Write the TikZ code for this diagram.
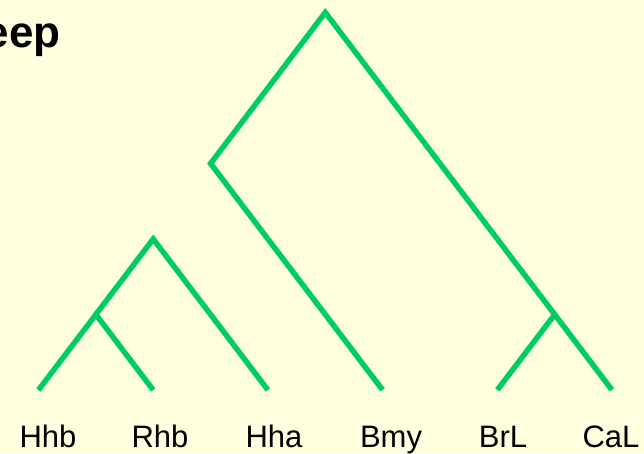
\documentclass[tikz,border=0pt]{standalone}
\usepackage{fontspec}
\setmainfont{Liberation Sans}
\definecolor{bgyellow}{RGB}{255,255,224}
\definecolor{treegreen}{RGB}{0,204,102}
\begin{document}
\begin{tikzpicture}[x=1pt,y=-1pt,
  branch/.style={draw=treegreen,line width=5.5pt,line join=miter,line cap=butt},
  leaflabel/.style={anchor=base,inner sep=0pt,font=\fontsize{31}{31}\selectfont},
  titletext/.style={anchor=base east,inner sep=0pt,font=\fontsize{44}{44}\selectfont\bfseries}]
\fill[bgyellow] (0,0) rectangle (644,453);
\useasboundingbox (0,0) rectangle (644,453);
% leaves
\coordinate (L1) at (38.5,390);
\coordinate (L2) at (153.2,390);
\coordinate (L3) at (267.9,390);
\coordinate (L4) at (382.6,390);
\coordinate (L5) at (497.3,390);
\coordinate (L6) at (612.0,390);
% internal nodes
\coordinate (A) at (95.9,314.5);
\coordinate (B) at (153.2,239);
\coordinate (C) at (210.6,163.5);
\coordinate (D) at (554.7,314.5);
\coordinate (R) at (325.3,12.5);
% intermediate segment points
\coordinate (RC) at (267.9,88);
\coordinate (RD1) at (382.6,88);
\coordinate (RD2) at (440.0,163.5);
\coordinate (RD3) at (497.3,239);
\coordinate (CB1) at (267.9,239);
\coordinate (CB2) at (325.3,314.5);
\coordinate (BH1) at (210.6,314.5);
% branches
\draw[branch] (RC) -- (R) -- (RD1);
\draw[branch] (RD1) -- (RD2);
\draw[branch] (RD2) -- (RD3);
\draw[branch] (RD3) -- (D);
\draw[branch] (RC) -- (C) -- (CB1);
\draw[branch] (CB1) -- (CB2);
\draw[branch] (CB2) -- (L4);
\draw[branch] (A) -- (B) -- (BH1);
\draw[branch] (BH1) -- (L3);
\draw[branch] (L1) -- (A) -- (L2);
\draw[branch] (L5) -- (D) -- (L6);
% labels
\node[leaflabel] (t1) at (48,447) {Hhb};
\node[leaflabel] (t2) at (160,447) {Rhb};
\node[leaflabel] (t3) at (274,447) {Hha};
\node[leaflabel] (t4) at (391,447) {Bmy};
\node[leaflabel] (t5) at (503,447) {BrL};
\node[leaflabel] (t6) at (611,447) {CaL};
\node[titletext] (title) at (61,47) {eep};
\end{tikzpicture}
\end{document}
